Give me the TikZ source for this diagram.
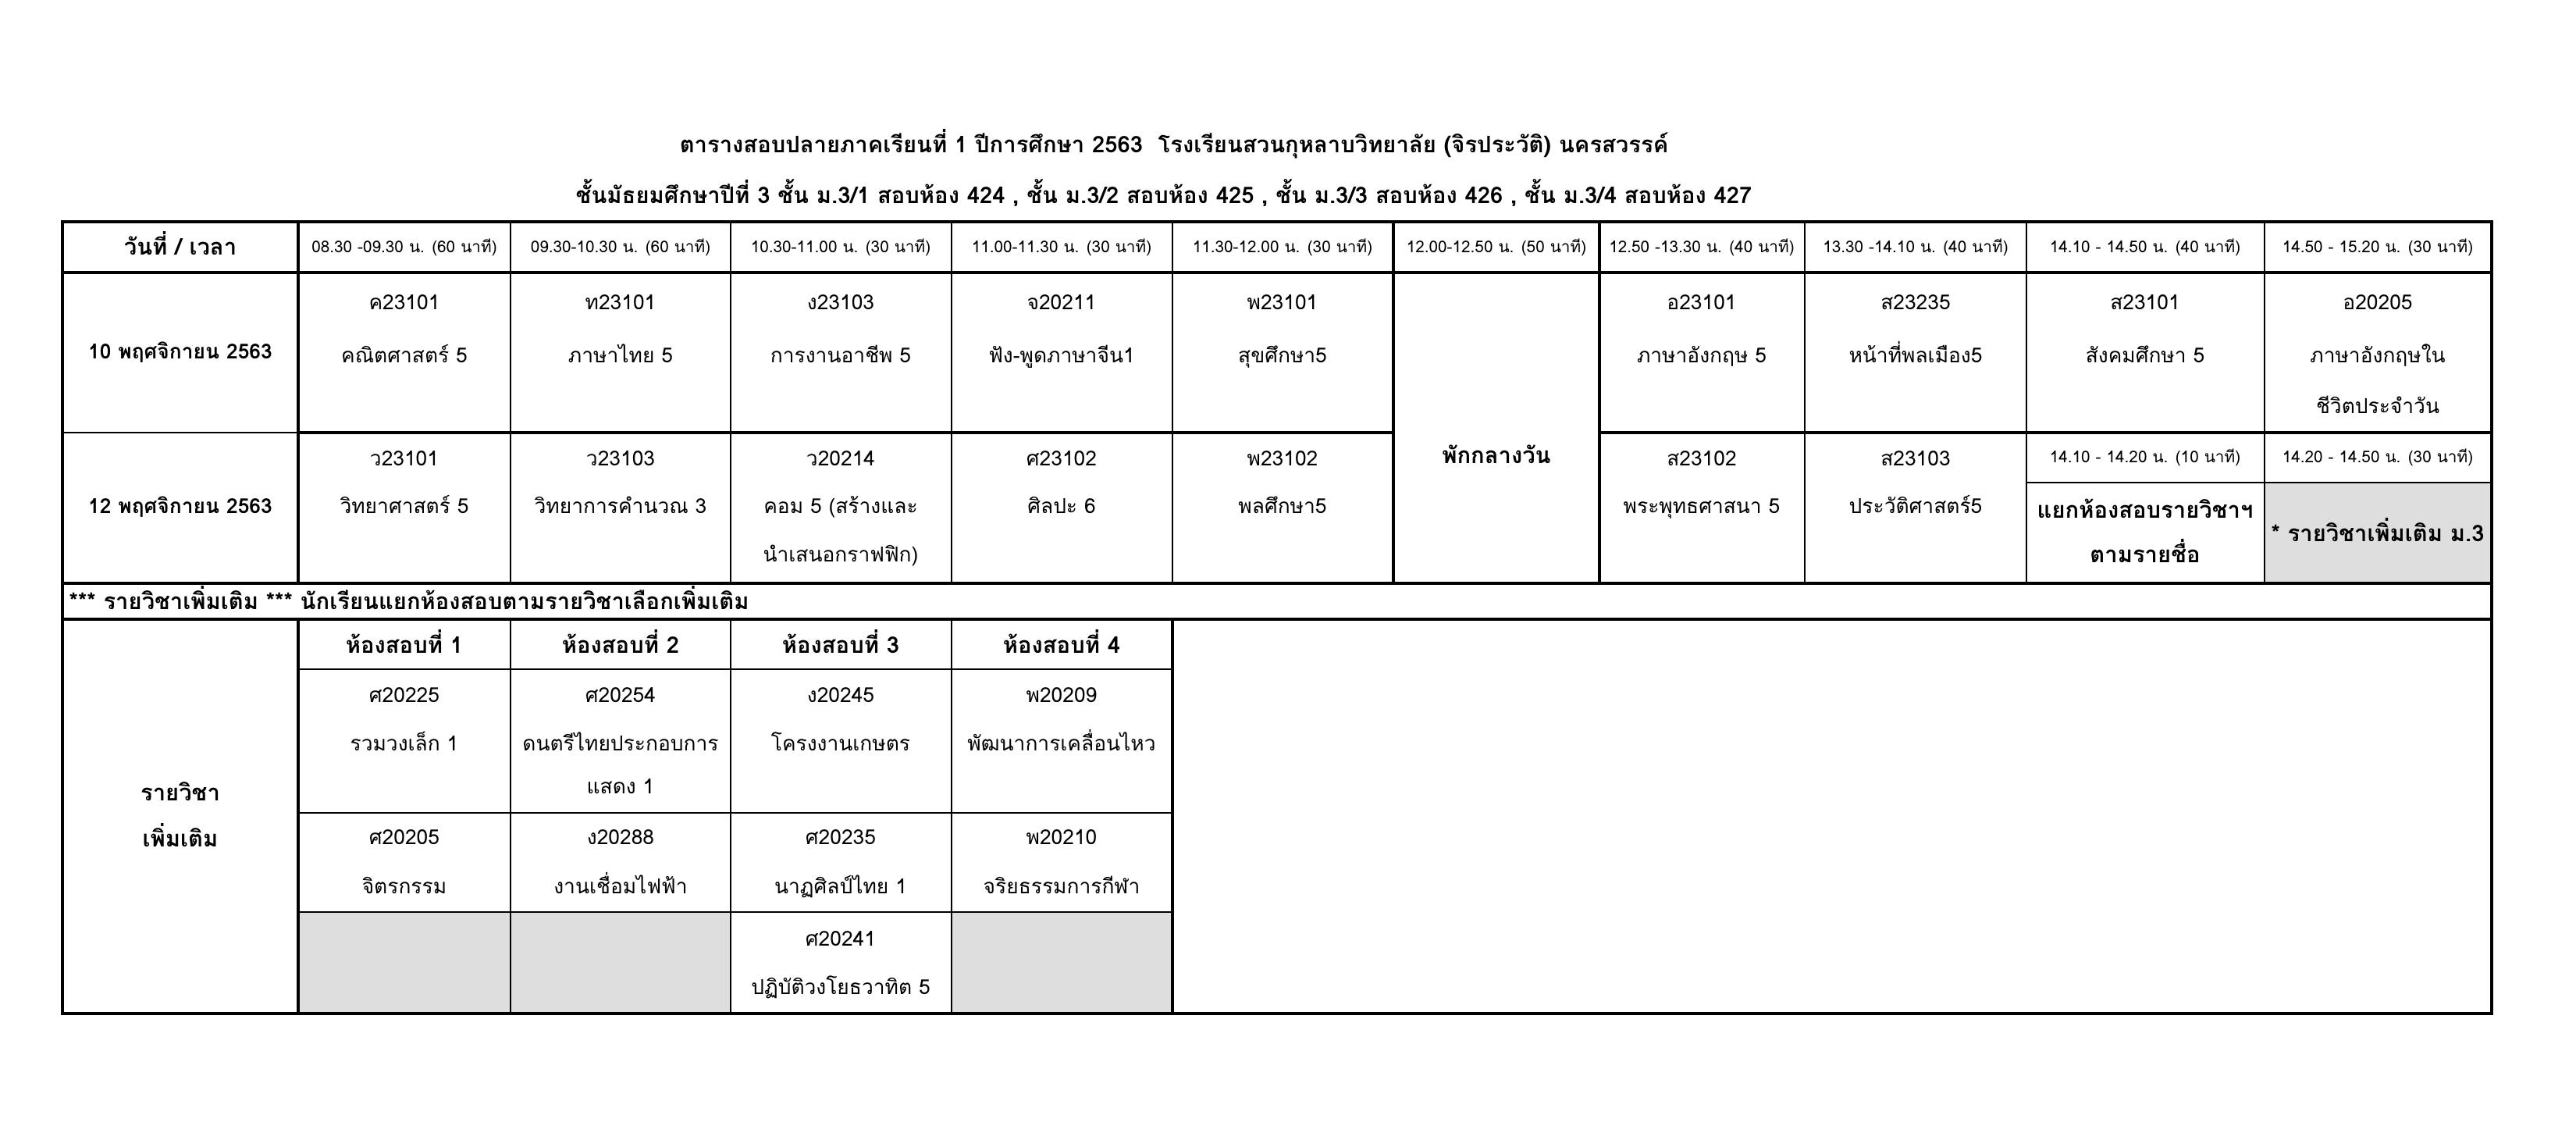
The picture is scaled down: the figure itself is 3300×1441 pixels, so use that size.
\documentclass[tikz,border=0pt]{standalone}
\usepackage{fontspec}
\setmainfont{Loma}[Script=Thai]
\definecolor{cellgray}{HTML}{DEDEDE}
\tikzset{
  txt/.style={inner sep=0pt, anchor=base, font=\fontsize{7.5}{9}\selectfont},
  btxt/.style={inner sep=0pt, anchor=base, font=\fontsize{8.3}{10}\selectfont\bfseries},
  dtxt/.style={inner sep=0pt, anchor=base, font=\fontsize{7.5}{9}\selectfont\bfseries},
  stxt/.style={inner sep=0pt, anchor=base, font=\fontsize{5.9}{7}\selectfont},
  thick line/.style={line width=0.95pt},
  mid line/.style={line width=0.75pt},
  thin line/.style={line width=0.5pt},
  outer line/.style={line width=1.15pt},
}
\begin{document}
\begin{tikzpicture}[x=0.01cm,y=-0.01cm]
\useasboundingbox (0,0) rectangle (3300,1441);
% gray fills
\fill[cellgray] (382,1168) rectangle (936,1298);
\fill[cellgray] (1219,1168) rectangle (1502,1298);
\fill[cellgray] (2901,618) rectangle (3192,747);
% horizontal lines
\draw[thick line] (80,349) -- (3192,349);
\draw[thin line] (80,554) -- (382,554);
\draw[thick line] (382,554) -- (1785,554);
\draw[thick line] (2049,554) -- (3192,554);
\draw[mid line] (2596,618) -- (3192,618);
\draw[thick line] (80,747) -- (3192,747);
\draw[thick line] (80,793) -- (3192,793);
\draw[mid line] (382,857) -- (1502,857);
\draw[mid line] (382,1041) -- (1502,1041);
\draw[mid line] (382,1168) -- (1502,1168);
% vertical lines upper
\draw[thick line] (382,284) -- (382,747);
\foreach \x in {654,936,1219,1502,2312,2596,2901} \draw[thin line] (\x,284) -- (\x,747);
\draw[thick line] (1785,284) -- (1785,747);
\draw[thick line] (2049,284) -- (2049,747);
% vertical lines lower
\draw[thick line] (382,793) -- (382,1298);
\foreach \x in {654,936,1219} \draw[thin line] (\x,793) -- (\x,1298);
\draw[thick line] (1502,793) -- (1502,1298);
% outer frame
\draw[outer line] (80,284) rectangle (3192,1298);

% title
\node[btxt] (title1) at (1504,195) {ตารางสอบปลายภาคเรียนที่ 1 ปีการศึกษา 2563\ \ โรงเรียนสวนกุหลาบวิทยาลัย (จิรประวัติ) นครสวรรค์};
\node[btxt] (title2) at (1491,260) {ชั้นมัธยมศึกษาปีที่ 3 ชั้น ม.3/1 สอบห้อง 424 , ชั้น ม.3/2 สอบห้อง 425 , ชั้น ม.3/3 สอบห้อง 426 , ชั้น ม.3/4 สอบห้อง 427};

% header row
\node[btxt] (h0) at (231,326) {วันที่ / เวลา};
\node[stxt] (h1) at (518,323) {08.30 -09.30 น. (60 นาที)};
\node[stxt] (h2) at (795,323) {09.30-10.30 น. (60 นาที)};
\node[stxt] (h3) at (1077,323) {10.30-11.00 น. (30 นาที)};
\node[stxt] (h4) at (1360,323) {11.00-11.30 น. (30 นาที)};
\node[stxt] (h5) at (1643,323) {11.30-12.00 น. (30 นาที)};
\node[stxt] (h6) at (1917,323) {12.00-12.50 น. (50 นาที)};
\node[stxt] (h7) at (2180,323) {12.50 -13.30 น. (40 นาที)};
\node[stxt] (h8) at (2454,323) {13.30 -14.10 น. (40 นาที)};
\node[stxt] (h9) at (2748,323) {14.10 - 14.50 น. (40 นาที)};
\node[stxt] (h10) at (3046,323) {14.50 - 15.20 น. (30 นาที)};

% row 1
\node[dtxt] (d1) at (231,459) {10 พฤศจิกายน 2563};
\node[txt] (a1c) at (518,396) {ค23101};
\node[txt] (a1n) at (518,464) {คณิตศาสตร์ 5};
\node[txt] (a2c) at (795,396) {ท23101};
\node[txt] (a2n) at (795,464) {ภาษาไทย 5};
\node[txt] (a3c) at (1077,396) {ง23103};
\node[txt] (a3n) at (1077,464) {การงานอาชีพ 5};
\node[txt] (a4c) at (1360,396) {จ20211};
\node[txt] (a4n) at (1360,464) {ฟัง-พูดภาษาจีน1};
\node[txt] (a5c) at (1643,396) {พ23101};
\node[txt] (a5n) at (1643,464) {สุขศึกษา5};
\node[txt] (a7c) at (2180,396) {อ23101};
\node[txt] (a7n) at (2180,464) {ภาษาอังกฤษ 5};
\node[txt] (a8c) at (2454,396) {ส23235};
\node[txt] (a8n) at (2454,464) {หน้าที่พลเมือง5};
\node[txt] (a9c) at (2748,396) {ส23101};
\node[txt] (a9n) at (2748,464) {สังคมศึกษา 5};
\node[txt] (a10c) at (3046,396) {อ20205};
\node[txt] (a10n) at (3046,464) {ภาษาอังกฤษใน};
\node[txt] (a10m) at (3046,529) {ชีวิตประจำวัน};

% lunch
\node[btxt] (lunch) at (1917,593) {พักกลางวัน};

% row 2
\node[dtxt] (d2) at (231,657) {12 พฤศจิกายน 2563};
\node[txt] (b1c) at (518,596) {ว23101};
\node[txt] (b1n) at (518,657) {วิทยาศาสตร์ 5};
\node[txt] (b2c) at (795,596) {ว23103};
\node[txt] (b2n) at (795,657) {วิทยาการคำนวณ 3};
\node[txt] (b3c) at (1077,596) {ว20214};
\node[txt] (b3n) at (1077,657) {คอม 5 (สร้างและ};
\node[txt] (b3m) at (1077,719) {นำเสนอกราฟฟิก)};
\node[txt] (b4c) at (1360,596) {ศ23102};
\node[txt] (b4n) at (1360,657) {ศิลปะ 6};
\node[txt] (b5c) at (1643,596) {พ23102};
\node[txt] (b5n) at (1643,657) {พลศึกษา5};
\node[txt] (b7c) at (2180,596) {ส23102};
\node[txt] (b7n) at (2180,657) {พระพุทธศาสนา 5};
\node[txt] (b8c) at (2454,596) {ส23103};
\node[txt] (b8n) at (2454,657) {ประวัติศาสตร์5};
\node[stxt] (b9t) at (2748,592) {14.10 - 14.20 น. (10 นาที)};
\node[stxt] (b10t) at (3046,592) {14.20 - 14.50 น. (30 นาที)};
\node[btxt] (b9a) at (2748,663) {แยกห้องสอบรายวิชาฯ};
\node[btxt] (b9b) at (2748,720) {ตามรายชื่อ};
\node[btxt] (b10a) at (3046,693) {* รายวิชาเพิ่มเติม ม.3};

% note row
\node[btxt, anchor=base west] (note) at (88,780) {*** รายวิชาเพิ่มเติม *** นักเรียนแยกห้องสอบตามรายวิชาเลือกเพิ่มเติม};

% lower section
\node[btxt] (e0a) at (231,1025) {รายวิชา};
\node[btxt] (e0b) at (231,1084) {เพิ่มเติม};
\node[btxt] (r1) at (518,836) {ห้องสอบที่ 1};
\node[btxt] (r2) at (795,836) {ห้องสอบที่ 2};
\node[btxt] (r3) at (1077,836) {ห้องสอบที่ 3};
\node[btxt] (r4) at (1360,836) {ห้องสอบที่ 4};

\node[txt] (e1c) at (518,899) {ศ20225};
\node[txt] (e1n) at (518,961) {รวมวงเล็ก 1};
\node[txt] (e2c) at (795,899) {ศ20254};
\node[txt] (e2n) at (795,961) {ดนตรีไทยประกอบการ};
\node[txt] (e2m) at (795,1016) {แสดง 1};
\node[txt] (e3c) at (1077,899) {ง20245};
\node[txt] (e3n) at (1077,961) {โครงงานเกษตร};
\node[txt] (e4c) at (1360,899) {พ20209};
\node[txt] (e4n) at (1360,961) {พัฒนาการเคลื่อนไหว};

\node[txt] (f1c) at (518,1081) {ศ20205};
\node[txt] (f1n) at (518,1144) {จิตรกรรม};
\node[txt] (f2c) at (795,1081) {ง20288};
\node[txt] (f2n) at (795,1144) {งานเชื่อมไฟฟ้า};
\node[txt] (f3c) at (1077,1081) {ศ20235};
\node[txt] (f3n) at (1077,1144) {นาฏศิลป์ไทย 1};
\node[txt] (f4c) at (1360,1081) {พ20210};
\node[txt] (f4n) at (1360,1144) {จริยธรรมการกีฬา};

\node[txt] (g3c) at (1077,1211) {ศ20241};
\node[txt] (g3n) at (1077,1273) {ปฏิบัติวงโยธวาทิต 5};
\end{tikzpicture}
\end{document}
